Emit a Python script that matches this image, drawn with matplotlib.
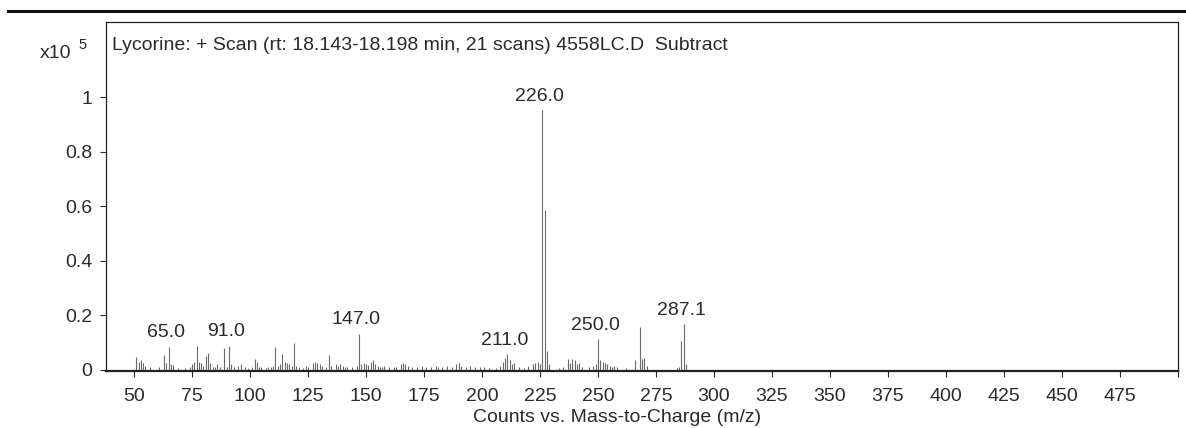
import matplotlib
matplotlib.use("Agg")
import matplotlib.pyplot as plt
from matplotlib.lines import Line2D

plt.rcParams['font.family'] = ['Liberation Sans', 'DejaVu Sans']

# m/z values and relative abundances (x10^5 counts)
mz = [51, 52, 53, 54, 55, 57, 61, 63, 64, 65, 66, 67, 69, 72, 74, 75, 76, 77, 78, 79,
      80, 81, 82, 83, 84, 85, 86, 87, 89, 90, 91, 92, 93, 95, 96, 98, 99, 101, 102, 103,
      104, 105, 107, 108, 109, 110, 111, 112, 113, 114, 115, 116, 117, 118, 119, 120, 121,
      123, 124, 125, 127, 128, 129, 130, 131, 133, 134, 135, 137, 138, 139, 140, 141, 142,
      144, 146, 147, 148, 149, 150, 151, 152, 153, 154, 155, 156, 157, 158, 160, 162, 163,
      165, 166, 167, 168, 170, 172, 174, 176, 178, 180, 181, 183, 185, 187, 189, 190, 191,
      193, 195, 197, 199, 201, 203, 206, 208, 209, 210, 211, 212, 213, 214, 216, 218, 220,
      222, 223, 224, 225, 226, 227, 228, 229, 233, 235, 237, 238, 239, 240, 241, 242, 243,
      246, 248, 249, 250, 251, 252, 253, 254, 255, 256, 257, 258, 262, 266, 268, 269, 270,
      271, 284, 285, 286, 287.1, 288]
counts = [0.048, 0.030, 0.035, 0.025, 0.015, 0.010, 0.010, 0.055, 0.025, 0.084, 0.020,
          0.018, 0.008, 0.008, 0.012, 0.020, 0.028, 0.088, 0.030, 0.025, 0.015, 0.050,
          0.062, 0.025, 0.010, 0.010, 0.020, 0.012, 0.080, 0.012, 0.088, 0.020, 0.012,
          0.015, 0.020, 0.010, 0.008, 0.012, 0.040, 0.030, 0.012, 0.010, 0.008, 0.010,
          0.012, 0.015, 0.085, 0.015, 0.020, 0.060, 0.030, 0.025, 0.020, 0.015, 0.100,
          0.015, 0.010, 0.008, 0.015, 0.010, 0.025, 0.030, 0.025, 0.020, 0.015, 0.010,
          0.055, 0.015, 0.020, 0.015, 0.020, 0.015, 0.012, 0.010, 0.010, 0.015, 0.132,
          0.020, 0.025, 0.020, 0.018, 0.030, 0.035, 0.020, 0.015, 0.012, 0.010, 0.015,
          0.012, 0.010, 0.012, 0.020, 0.025, 0.020, 0.015, 0.010, 0.012, 0.015, 0.010,
          0.012, 0.015, 0.012, 0.010, 0.015, 0.012, 0.020, 0.025, 0.015, 0.012, 0.015,
          0.010, 0.012, 0.010, 0.008, 0.008, 0.015, 0.030, 0.045, 0.058, 0.035, 0.020,
          0.025, 0.010, 0.008, 0.015, 0.020, 0.025, 0.030, 0.020, 0.952, 0.586, 0.070,
          0.020, 0.008, 0.010, 0.040, 0.025, 0.040, 0.035, 0.020, 0.025, 0.012, 0.010,
          0.015, 0.020, 0.113, 0.035, 0.030, 0.025, 0.020, 0.015, 0.012, 0.015, 0.010,
          0.008, 0.035, 0.157, 0.040, 0.045, 0.015, 0.008, 0.012, 0.107, 0.168, 0.020]

# labelled peaks
label_mz = [65.0, 91.0, 147.0, 211.0, 226.0, 250.0, 287.1]
label_y = [0.084, 0.088, 0.132, 0.058, 0.952, 0.113, 0.168]

x_ticks = [50, 75, 100, 125, 150, 175, 200, 225, 250, 275, 300, 325, 350, 375, 400,
           425, 450, 475, 500]
y_ticks = [0, 0.2, 0.4, 0.6, 0.8, 1]

title = "Lycorine: + Scan (rt: 18.143-18.198 min, 21 scans) 4558LC.D  Subtract"
xlabel = "Counts vs. Mass-to-Charge (m/z)"

FS = 14
TXT = '#2a2a2a'

fig = plt.figure(figsize=(11.86, 4.28), dpi=100)
ax = fig.add_axes([0.0894, 0.1332, 0.9039, 0.8154])

ax.vlines(mz, 0, counts, colors='#6a6a6a', linewidth=0.8)

for xm, ym in zip(label_mz, label_y):
    ax.annotate(f"{xm:.1f}", (xm, ym), xytext=(-2, 4), textcoords='offset points',
                ha='center', va='bottom', fontsize=FS, color=TXT)

ax.set_xlim(38, 500)
ax.set_ylim(-0.004, 1.275)
ax.set_xticks(x_ticks)
ax.set_xticklabels([str(t) if t < 500 else '' for t in x_ticks])
ax.set_yticks(y_ticks)
ax.set_yticklabels(['0', '0.2', '0.4', '0.6', '0.8', '1'])
ax.tick_params(axis='both', labelsize=FS, colors=TXT, length=4, width=0.8,
               direction='out')
ax.tick_params(axis='x', pad=8)
ax.tick_params(axis='y', pad=6)
for s in ax.spines.values():
    s.set_linewidth(0.9)
    s.set_color('#222222')
ax.spines['bottom'].set_linewidth(1.6)

ax.set_xlabel(xlabel, fontsize=FS, color=TXT)
ax.xaxis.set_label_coords(0.477, -0.109)

ax.text(0.006, 0.934, title, transform=ax.transAxes, fontsize=FS,
        ha='left', va='center', color=TXT)
fig.text(40 / 1186, 1 - 53 / 428, "x10", fontsize=FS, ha='left', va='center',
         color=TXT)
fig.text(83 / 1186, 1 - 45 / 428, "5", fontsize=10.5, ha='center', va='center',
         color=TXT)

fig.add_artist(Line2D([8 / 1186, 1.0], [1 - 11 / 428, 1 - 11 / 428],
                      transform=fig.transFigure, color='#111111', linewidth=2.2))

fig.savefig("out.png", dpi=100)
